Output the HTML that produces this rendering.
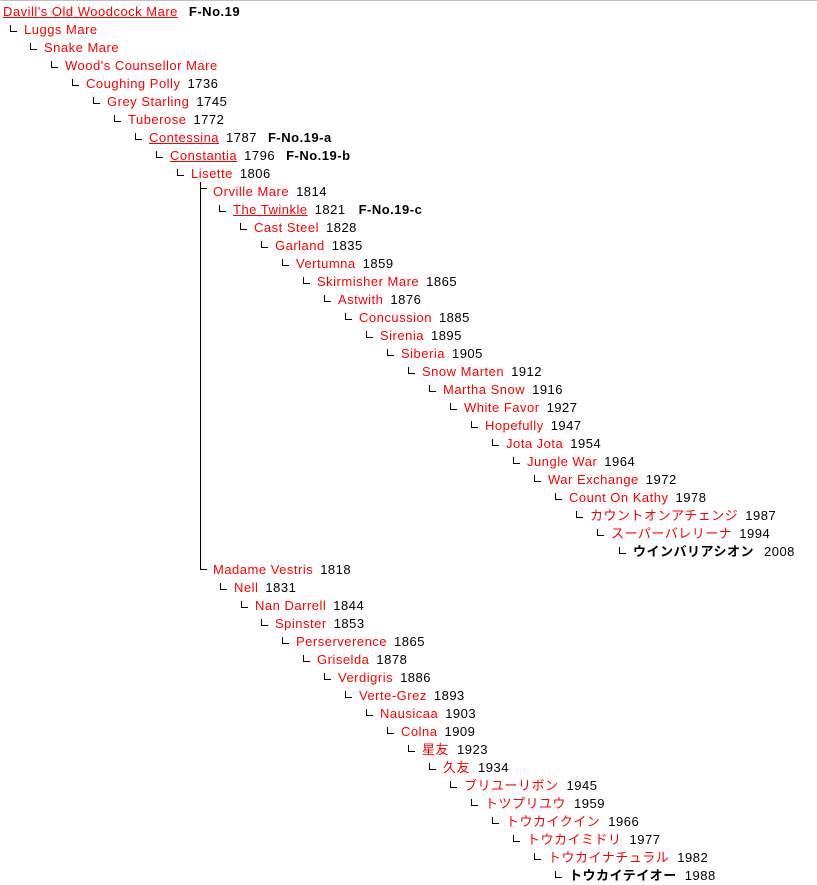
<!DOCTYPE html>
<html><head><meta charset="utf-8"><style>
body{margin:0;width:817px;height:883px;background:#fff;position:relative;overflow:hidden;font-family:"Liberation Sans","Noto Sans CJK JP",sans-serif;font-size:13px;letter-spacing:0.5px}
#top{position:absolute;left:0;top:0;width:817px;height:1px;background:#c0c0c0}
.r{position:absolute;height:18px;line-height:18px;white-space:nowrap;color:#000}
.n{color:#f00}
.u{text-decoration:underline}
.y{margin-left:7px}
.f{font-weight:bold;margin-left:11px}
.b{font-weight:bold;color:#000}
</style></head><body>
<div id="top"></div>
<div class="r" style="left:3px;top:3px"><span class="n u">Davill's Old Woodcock Mare</span><span class="f">F-No.19</span></div>
<div class="r" style="left:24px;top:21px"><span class="n">Luggs Mare</span></div>
<div class="r" style="left:44px;top:39px"><span class="n">Snake Mare</span></div>
<div class="r" style="left:65px;top:57px"><span class="n">Wood's Counsellor Mare</span></div>
<div class="r" style="left:86px;top:75px"><span class="n">Coughing Polly</span><span class="y">1736</span></div>
<div class="r" style="left:107px;top:93px"><span class="n">Grey Starling</span><span class="y">1745</span></div>
<div class="r" style="left:128px;top:111px"><span class="n">Tuberose</span><span class="y">1772</span></div>
<div class="r" style="left:149px;top:129px"><span class="n u">Contessina</span><span class="y">1787</span><span class="f">F-No.19-a</span></div>
<div class="r" style="left:170px;top:147px"><span class="n u">Constantia</span><span class="y">1796</span><span class="f">F-No.19-b</span></div>
<div class="r" style="left:191px;top:165px"><span class="n">Lisette</span><span class="y">1806</span></div>
<div class="r" style="left:213px;top:183px"><span class="n">Orville Mare</span><span class="y">1814</span></div>
<div class="r" style="left:233px;top:201px"><span class="n u">The Twinkle</span><span class="y">1821</span><span class="f" style="margin-left:13px">F-No.19-c</span></div>
<div class="r" style="left:254px;top:219px"><span class="n">Cast Steel</span><span class="y">1828</span></div>
<div class="r" style="left:275px;top:237px"><span class="n">Garland</span><span class="y">1835</span></div>
<div class="r" style="left:296px;top:255px"><span class="n">Vertumna</span><span class="y">1859</span></div>
<div class="r" style="left:317px;top:273px"><span class="n">Skirmisher Mare</span><span class="y">1865</span></div>
<div class="r" style="left:338px;top:291px"><span class="n">Astwith</span><span class="y">1876</span></div>
<div class="r" style="left:359px;top:309px"><span class="n">Concussion</span><span class="y">1885</span></div>
<div class="r" style="left:380px;top:327px"><span class="n">Sirenia</span><span class="y">1895</span></div>
<div class="r" style="left:401px;top:345px"><span class="n">Siberia</span><span class="y">1905</span></div>
<div class="r" style="left:422px;top:363px"><span class="n">Snow Marten</span><span class="y">1912</span></div>
<div class="r" style="left:443px;top:381px"><span class="n">Martha Snow</span><span class="y">1916</span></div>
<div class="r" style="left:464px;top:399px"><span class="n">White Favor</span><span class="y">1927</span></div>
<div class="r" style="left:485px;top:417px"><span class="n">Hopefully</span><span class="y">1947</span></div>
<div class="r" style="left:506px;top:435px"><span class="n">Jota Jota</span><span class="y">1954</span></div>
<div class="r" style="left:527px;top:453px"><span class="n">Jungle War</span><span class="y">1964</span></div>
<div class="r" style="left:548px;top:471px"><span class="n">War Exchange</span><span class="y">1972</span></div>
<div class="r" style="left:569px;top:489px"><span class="n">Count On Kathy</span><span class="y">1978</span></div>
<div class="r" style="left:590px;top:507px"><span class="n">カウントオンアチェンジ</span><span class="y">1987</span></div>
<div class="r" style="left:611px;top:525px"><span class="n">スーパーバレリーナ</span><span class="y">1994</span></div>
<div class="r" style="left:633px;top:543px"><span class="b">ウインバリアシオン</span><span class="y" style="margin-left:10px">2008</span></div>
<div class="r" style="left:213px;top:561px"><span class="n">Madame Vestris</span><span class="y">1818</span></div>
<div class="r" style="left:234px;top:579px"><span class="n">Nell</span><span class="y">1831</span></div>
<div class="r" style="left:255px;top:597px"><span class="n">Nan Darrell</span><span class="y">1844</span></div>
<div class="r" style="left:275px;top:615px"><span class="n">Spinster</span><span class="y">1853</span></div>
<div class="r" style="left:296px;top:633px"><span class="n">Perserverence</span><span class="y">1865</span></div>
<div class="r" style="left:317px;top:651px"><span class="n">Griselda</span><span class="y">1878</span></div>
<div class="r" style="left:338px;top:669px"><span class="n">Verdigris</span><span class="y">1886</span></div>
<div class="r" style="left:359px;top:687px"><span class="n">Verte-Grez</span><span class="y">1893</span></div>
<div class="r" style="left:380px;top:705px"><span class="n">Nausicaa</span><span class="y">1903</span></div>
<div class="r" style="left:401px;top:723px"><span class="n">Colna</span><span class="y">1909</span></div>
<div class="r" style="left:422px;top:741px"><span class="n">星友</span><span class="y" style="margin-left:8px">1923</span></div>
<div class="r" style="left:443px;top:759px"><span class="n">久友</span><span class="y" style="margin-left:8px">1934</span></div>
<div class="r" style="left:464px;top:777px"><span class="n">ブリユーリボン</span><span class="y" style="margin-left:8px">1945</span></div>
<div class="r" style="left:485px;top:795px"><span class="n">トツプリユウ</span><span class="y" style="margin-left:8px">1959</span></div>
<div class="r" style="left:506px;top:813px"><span class="n">トウカイクイン</span><span class="y" style="margin-left:8px">1966</span></div>
<div class="r" style="left:527px;top:831px"><span class="n">トウカイミドリ</span><span class="y" style="margin-left:8px">1977</span></div>
<div class="r" style="left:548px;top:849px"><span class="n">トウカイナチュラル</span><span class="y" style="margin-left:8px">1982</span></div>
<div class="r" style="left:569px;top:867px"><span class="b">トウカイテイオー</span><span class="y" style="margin-left:8px">1988</span></div>

<svg style="position:absolute;left:0;top:0" width="817" height="883" shape-rendering="crispEdges">
<g stroke="#000" stroke-width="1" fill="none">
<path d="M10.5 25V31.5H17M30.5 43V49.5H37M51.5 61V67.5H58M72.5 79V85.5H79M93.5 97V103.5H100M114.5 115V121.5H121M135.5 133V139.5H142M156.5 151V157.5H163M177.5 169V175.5H184"/>
<path d="M200.5 182V569.5M200 188.5H207M200 569.5H207"/>
<path d="M219.5 205V211.5H226M240.5 223V229.5H247M261.5 241V247.5H268M282.5 259V265.5H289M303.5 277V283.5H310M324.5 295V301.5H331M345.5 313V319.5H352M366.5 331V337.5H373M387.5 349V355.5H394M408.5 367V373.5H415M429.5 385V391.5H436M450.5 403V409.5H457M471.5 421V427.5H478M492.5 439V445.5H499M513.5 457V463.5H520M534.5 475V481.5H541M555.5 493V499.5H562M576.5 511V517.5H583M597.5 529V535.5H604M619.5 547V553.5H626"/>
<path d="M220.5 583V589.5H227M241.5 601V607.5H248M261.5 619V625.5H268M282.5 637V643.5H289M303.5 655V661.5H310M324.5 673V679.5H331M345.5 691V697.5H352M366.5 709V715.5H373M387.5 727V733.5H394M408.5 745V751.5H415M429.5 763V769.5H436M450.5 781V787.5H457M471.5 799V805.5H478M492.5 817V823.5H499M513.5 835V841.5H520M534.5 853V859.5H541M555.5 871V877.5H562"/>
</g></svg>
</body></html>
